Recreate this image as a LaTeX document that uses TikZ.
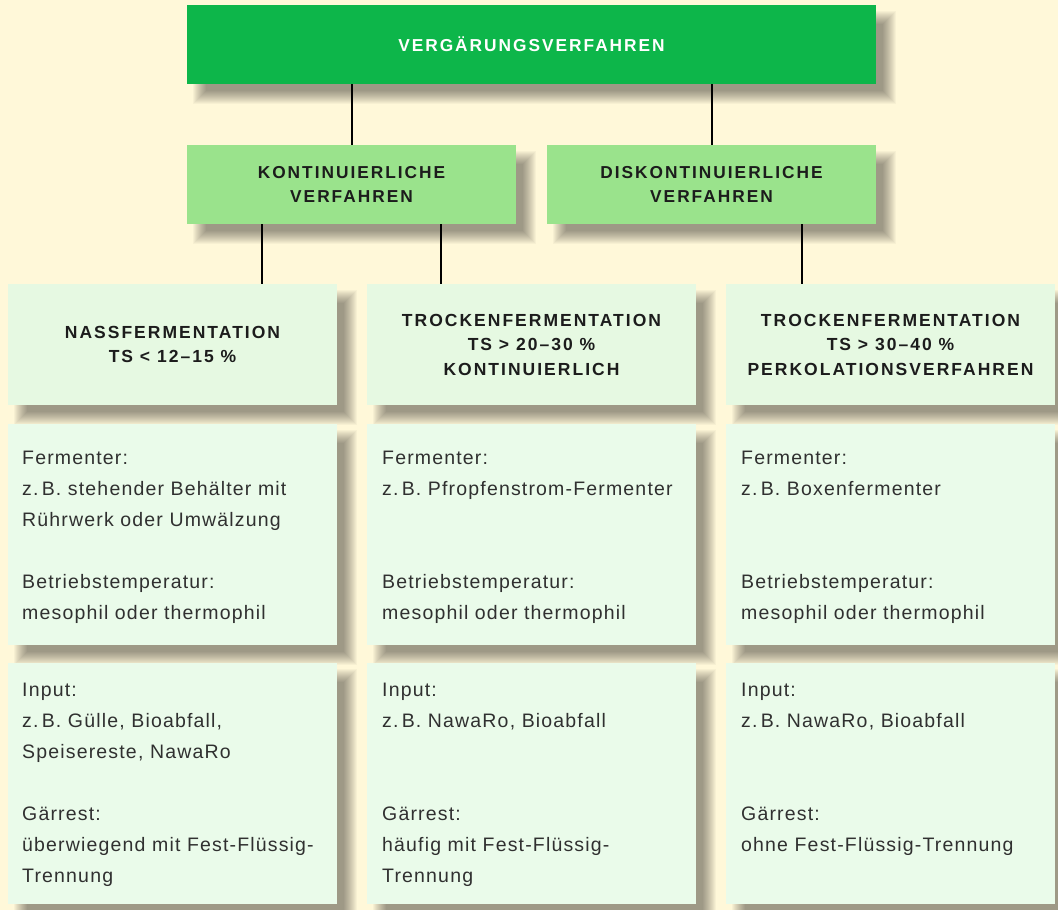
\documentclass[tikz,border=0pt]{standalone}
\usepackage{fontspec}
\setmainfont{Liberation Sans}
\newfontfamily\headfont[LetterSpace=11.5]{Liberation Sans}
\newfontfamily\bodyfont[LetterSpace=6]{Liberation Sans}
\usetikzlibrary{backgrounds}
\definecolor{bg}{HTML}{FFF8D9}
\definecolor{topgreen}{HTML}{0DB64A}
\definecolor{midgreen}{HTML}{9AE38C}
\definecolor{lightgreen}{HTML}{E6F9E2}
\definecolor{bodygreen}{HTML}{EAFBEA}
\definecolor{headtext}{HTML}{1C1C1C}
\definecolor{bodytext}{HTML}{303030}
\definecolor{shadowc}{HTML}{000000}
\newcommand\boxshadow[1]{%
  \foreach \k in {0,...,13}{%
    \fill[shadowc, opacity=0.031] ([shift={(6+\k,6+\k)}]#1.north west) rectangle ([shift={(20-\k,20-\k)}]#1.south east);}}
\tikzset{
  box/.style={rectangle, inner sep=0pt, outer sep=0pt},
  topbox/.style={box, fill=topgreen, minimum width=689pt, minimum height=79pt,
    text=white, font=\headfont\bfseries\fontsize{17.3}{20}\selectfont},
  lvbox/.style={box, fill=midgreen, minimum width=329pt, minimum height=79pt, align=center,
    text=headtext, font=\headfont\bfseries\fontsize{17.3}{24}\selectfont},
  hdbox/.style={box, fill=lightgreen, minimum width=329pt, minimum height=121pt, align=center,
    text=headtext, font=\headfont\bfseries\fontsize{17.5}{24.5}\selectfont},
  midbox/.style={box, fill=bodygreen, minimum width=329pt, minimum height=221pt},
  botbox/.style={box, fill=bodygreen, minimum width=329pt, minimum height=241pt},
  bodytxt/.style={anchor=north west, inner sep=0pt, align=left, text=bodytext,
    font=\bodyfont\fontsize{19.5}{31}\selectfont},
  conn/.style={draw=black, line width=2pt}
}
\begin{document}
\begin{tikzpicture}[x=1pt, y=-1pt]
\useasboundingbox (0,0) rectangle (1058,910);

\node[topbox] (top) at (531.5,44.5) {VERGÄRUNGSVERFAHREN};
\node[lvbox] (kont) at (351.5,184.5) {KONTINUIERLICHE\\VERFAHREN};
\node[lvbox] (diskont) at (711.5,184.5) {DISKONTINUIERLICHE\\VERFAHREN};

\node[hdbox] (h1) at (172.5,344.5) {NASSFERMENTATION\\TS < 12–15 \%};
\node[hdbox] (h2) at (531.5,344.5) {TROCKENFERMENTATION\\TS > 20–30 \%\\KONTINUIERLICH};
\node[hdbox] (h3) at (890.5,344.5) {TROCKENFERMENTATION\\TS > 30–40 \%\\PERKOLATIONSVERFAHREN};

\node[midbox] (m1) at (172.5,534.5) {};
\node[midbox] (m2) at (531.5,534.5) {};
\node[midbox] (m3) at (890.5,534.5) {};
\node[botbox] (b1) at (172.5,783.5) {};
\node[botbox] (b2) at (531.5,783.5) {};
\node[botbox] (b3) at (890.5,783.5) {};

\begin{scope}[on background layer]
\fill[bg] (0,0) rectangle (1058,910);
\foreach \n in {top,kont,diskont,h1,h2,h3,m1,m2,m3,b1,b2,b3}{\boxshadow{\n}}
\end{scope}

\node[bodytxt] (t1) at ([shift={(14pt,-26.7pt)}]m1.north west) {Fermenter:\\z.\,B. stehender Behälter mit\\Rührwerk oder Umwälzung\\[31pt]Betriebstemperatur:\\mesophil oder thermophil};
\node[bodytxt] (t2) at ([shift={(15pt,-26.7pt)}]m2.north west) {Fermenter:\\z.\,B. Pfropfenstrom-Fermenter\\[62pt]Betriebstemperatur:\\mesophil oder thermophil};
\node[bodytxt] (t3) at ([shift={(15pt,-26.7pt)}]m3.north west) {Fermenter:\\z.\,B. Boxenfermenter\\[62pt]Betriebstemperatur:\\mesophil oder thermophil};

\node[bodytxt] (u1) at ([shift={(14pt,-19.5pt)}]b1.north west) {Input:\\z.\,B. Gülle, Bioabfall,\\Speisereste, NawaRo\\[31pt]Gärrest:\\überwiegend mit Fest-Flüssig-\\Trennung};
\node[bodytxt] (u2) at ([shift={(15pt,-19.5pt)}]b2.north west) {Input:\\z.\,B. NawaRo, Bioabfall\\[62pt]Gärrest:\\häufig mit Fest-Flüssig-\\Trennung};
\node[bodytxt] (u3) at ([shift={(15pt,-19.5pt)}]b3.north west) {Input:\\z.\,B. NawaRo, Bioabfall\\[62pt]Gärrest:\\ohne Fest-Flüssig-Trennung};

\draw[conn] (top.south -| kont.north) -- (kont.north);
\draw[conn] (top.south -| diskont.north) -- (diskont.north);
\draw[conn] ([xshift=-89.5pt]kont.south) -- (h1.north -| 262,0);
\draw[conn] ([xshift=89.5pt]kont.south) -- (h2.north -| 441,0);
\draw[conn] ([xshift=90.5pt]diskont.south) -- (h3.north -| 802,0);
\end{tikzpicture}
\end{document}
